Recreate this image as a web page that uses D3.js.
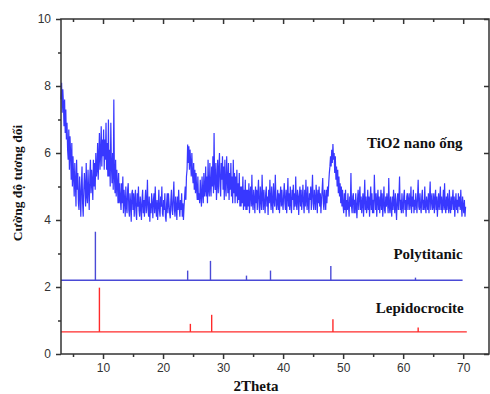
<!DOCTYPE html>
<html>
<head>
<meta charset="utf-8">
<script src="https://cdn.jsdelivr.net/npm/d3@7"></script>
<style>
  html, body { margin: 0; padding: 0; background: #fff; }
  svg { display: block; }
</style>
</head>
<body>
<svg id="chart" width="490" height="394"></svg>
<script>
// XRD pattern of TiO2 nanotubes, sampled every 0.1 degree from 2θ = 3.0
const thetaStart = 3.0;
const thetaStep = 0.1;
const tio2 = [
  7.6, 8.1, 7.2, 7.9, 7.5, 6.8, 7.6, 6.6, 7.3, 6.4,
  6.9, 6.1, 5.8, 6.7, 5.5, 6.5, 6.0, 5.2, 6.3, 5.0,
  5.9, 5.3, 4.7, 5.7, 5.1, 4.4, 5.8, 4.9, 5.4, 4.5,
  4.3, 5.3, 4.8, 4.1, 5.0, 5.6, 4.5, 4.1, 4.9, 5.4,
  5.0, 4.4, 5.7, 4.7, 4.5, 5.5, 4.9, 4.3, 5.3, 5.8,
  4.8, 5.5, 5.1, 4.6, 5.8, 5.0, 5.7, 4.9, 6.0, 5.3,
  5.5, 6.3, 5.2, 5.9, 6.6, 5.5, 6.0, 6.8, 5.6, 6.4,
  5.9, 6.7, 5.5, 6.4, 5.8, 6.9, 5.5, 6.3, 5.3, 7.0,
  5.3, 6.1, 5.0, 6.9, 5.6, 5.1, 6.0, 4.9, 7.6, 5.3,
  4.8, 5.8, 4.7, 5.5, 5.1, 4.5, 5.4, 4.5, 5.1, 4.6,
  4.3, 5.1, 4.5, 5.3, 4.2, 4.9, 4.6, 4.1, 5.0, 4.4,
  4.2, 4.9, 5.1, 4.3, 4.1, 4.8, 4.5, 3.95, 4.8, 4.9,
  4.3, 4.8, 4.1, 4.6, 4.9, 4.2, 4.0, 4.8, 4.4, 5.0,
  4.3, 4.1, 4.7, 4.4, 4.0, 4.6, 4.9, 4.2, 4.6, 4.1,
  4.6, 4.9, 4.2, 4.5, 5.2, 4.3, 4.1, 4.7, 3.95, 4.5,
  4.2, 4.8, 4.5, 4.05, 4.6, 4.8, 4.2, 5.0, 4.4, 4.1,
  4.6, 4.0, 4.4, 4.9, 4.3, 4.1, 4.7, 4.4, 5.0, 4.2,
  4.1, 4.6, 4.3, 4.8, 4.1, 3.95, 4.5, 4.8, 4.2, 4.8,
  4.5, 4.2, 4.05, 4.6, 4.9, 4.3, 4.15, 4.7, 5.15, 4.3,
  4.1, 4.7, 4.4, 4.0, 4.7, 4.3, 4.9, 4.4, 4.1, 4.6,
  4.3, 4.8, 4.1, 4.5, 4.0, 4.4, 4.7, 5.0, 4.6, 5.3,
  5.5, 6.25, 5.7, 6.2, 5.5, 6.1, 5.7, 5.3, 6.0, 5.4,
  5.1, 5.7, 4.9, 5.5, 4.8, 5.4, 4.9, 4.6, 5.3, 4.6,
  4.8, 4.5, 5.2, 4.7, 4.4, 5.3, 4.8, 4.5, 5.4, 4.7,
  4.9, 5.6, 4.7, 5.3, 4.5, 5.8, 4.9, 4.7, 5.7, 5.0,
  4.7, 5.6, 5.0, 5.9, 4.8, 6.6, 5.1, 4.9, 5.7, 4.6,
  5.1, 5.8, 4.8, 5.5, 6.0, 5.0, 4.7, 5.7, 5.2, 5.9,
  4.9, 5.6, 4.6, 5.8, 5.0, 4.7, 5.9, 5.2, 4.8, 5.7,
  4.6, 5.4, 4.9, 5.7, 4.7, 5.3, 4.5, 5.8, 4.8, 5.4,
  4.5, 5.3, 4.7, 5.5, 4.5, 5.1, 4.6, 5.4, 4.4, 5.0,
  4.4, 5.0, 4.5, 5.3, 4.3, 4.9, 4.4, 5.2, 4.3, 4.9,
  4.3, 4.9, 4.4, 5.1, 4.2, 4.8, 5.0, 4.4, 5.35, 4.5,
  4.3, 4.9, 4.6, 4.2, 5.0, 4.5, 4.9, 4.3, 4.8, 5.2,
  4.4, 4.2, 5.0, 4.6, 4.3, 5.35, 4.7, 4.3, 4.9, 4.5,
  4.2, 4.8, 5.0, 4.4, 4.7, 4.15, 4.9, 4.5, 5.2, 4.6,
  4.3, 5.0, 4.5, 4.2, 5.1, 4.6, 4.4, 5.35, 4.7, 4.3,
  4.5, 4.9, 4.3, 4.8, 4.2, 4.7, 5.0, 4.4, 4.9, 4.5,
  4.3, 4.8, 5.1, 4.5, 4.3, 4.9, 4.2, 4.7, 5.25, 4.4,
  4.8, 4.3, 5.0, 4.5, 4.2, 4.9, 4.6, 5.05, 4.3, 4.8,
  4.4, 5.3, 4.5, 4.3, 4.9, 4.7, 4.15, 4.7, 5.0, 4.4,
  4.9, 4.3, 4.6, 5.05, 4.5, 4.2, 4.9, 4.4, 5.2, 4.6,
  4.3, 5.0, 4.5, 4.2, 4.8, 4.6, 5.0, 4.3, 4.8, 5.35,
  4.5, 4.3, 4.9, 4.6, 4.3, 5.05, 4.7, 4.2, 4.9, 4.5,
  5.0, 4.4, 4.8, 4.2, 4.6, 4.9, 5.25, 4.5, 4.3, 4.9,
  4.6, 4.3, 4.9, 4.5, 5.0, 4.7, 5.1, 5.4, 5.6, 5.9,
  5.6, 6.1, 5.7, 6.27, 5.8, 6.0, 5.4, 5.9, 5.2, 5.6,
  5.0, 5.5, 4.8, 5.3, 4.7, 5.1, 4.5, 5.0, 4.4, 4.9,
  4.4, 4.2, 4.8, 4.3, 4.9, 4.1, 4.6, 4.3, 4.8, 4.4,
  4.1, 4.7, 4.4, 5.4, 4.4, 4.2, 4.7, 4.8, 4.2, 4.6,
  4.2, 4.8, 4.4, 4.05, 4.6, 4.9, 4.3, 4.7, 5.0, 4.3,
  4.7, 4.2, 4.5, 4.8, 4.1, 4.6, 5.2, 4.3, 4.7, 4.2,
  4.4, 4.9, 4.3, 4.7, 4.1, 4.6, 5.0, 4.3, 4.8, 4.2,
  4.6, 4.2, 5.35, 4.7, 4.3, 4.8, 4.1, 4.6, 4.9, 4.3,
  4.7, 4.2, 4.5, 4.9, 4.3, 4.8, 4.1, 4.5, 5.0, 4.3,
  4.2, 4.7, 4.4, 4.8, 4.5, 4.2, 5.25, 4.4, 4.2, 4.7,
  4.4, 4.1, 4.7, 4.3, 4.9, 4.5, 4.2, 4.8, 4.4, 4.0,
  4.6, 4.8, 4.3, 4.7, 5.3, 4.3, 4.6, 4.2, 4.8, 4.4,
  4.2, 4.7, 4.9, 4.3, 4.6, 4.1, 4.7, 4.8, 4.3, 4.6,
  4.8, 4.3, 4.5, 5.0, 4.2, 4.7, 4.4, 4.9, 4.2, 4.6,
  4.3, 4.8, 4.5, 4.2, 4.7, 5.2, 4.4, 4.3, 4.8, 4.4,
  4.2, 4.7, 4.9, 4.3, 4.6, 4.3, 5.0, 4.4, 4.2, 4.7,
  4.5, 4.3, 4.8, 4.2, 4.7, 5.15, 4.3, 4.6, 4.8, 4.3,
  4.4, 4.8, 4.2, 4.6, 4.9, 4.3, 4.7, 4.1, 4.5, 4.8,
  4.3, 4.6, 5.0, 4.3, 4.7, 4.2, 4.5, 4.9, 4.3, 5.1,
  4.4, 4.2, 4.7, 4.3, 4.8, 4.5, 4.2, 4.9, 4.4, 4.2,
  4.7, 4.3, 4.6, 4.9, 4.3, 4.7, 4.1, 4.5, 4.8, 4.3,
  4.6, 4.2, 4.8, 4.4, 4.7, 4.3, 4.9, 4.4, 4.1, 4.7,
  4.4, 4.2, 4.6, 4.1, 4.4
];

// Reference stick patterns (2θ position, intensity) drawn on offset baselines
const polyTheta = [8.73, 24.1, 27.9, 33.9, 37.9, 47.95, 62.05];
const polyPeak  = [3.65, 2.49, 2.78, 2.34, 2.49, 2.63, 2.28];
const polyBase  = 2.2;
const polyRange = [3, 69.9];

const lepiTheta = [9.4, 24.55, 28.1, 48.3, 62.5];
const lepiPeak  = [1.98, 0.9, 1.17, 1.04, 0.79];
const lepiBase  = 0.66;
const lepiRange = [3, 70.6];

// Axis ticks
const xMajor = [10, 20, 30, 40, 50, 60, 70];
const xMinor = [5, 15, 25, 35, 45, 55, 65];
const yMajor = [0, 2, 4, 6, 8, 10];
const yMinor = [1, 3, 5, 7, 9];

// Curve labels
const labels = [
  { text: "TiO2 nano ống", theta: 69.9, y: 6.14 },
  { text: "Polytitanic",   theta: 69.9, y: 2.85 },
  { text: "Lepidocrocite", theta: 70.1, y: 1.23 }
];

const svg = d3.select("#chart");
const plotL = 61, plotR = 489, plotT = 19, plotB = 354;

const x = d3.scaleLinear().domain([3, 74.3]).range([plotL, plotR]);
const y = d3.scaleLinear().domain([0, 10]).range([plotB, plotT]);

const axisColor = "#333";
const tickFont = "Arial, 'Liberation Sans', sans-serif";
const serif = "'Times New Roman', 'Liberation Serif', serif";

// TiO2 pattern
const pts = tio2.map((v, i) => [thetaStart + i * thetaStep, v]);
svg.append("path")
  .datum(pts)
  .attr("fill", "none")
  .attr("stroke", "#0000ff")
  .attr("stroke-opacity", 0.78)
  .attr("stroke-width", 1.2)
  .attr("d", d3.line().x(d => x(d[0])).y(d => y(d[1])));

// Stick patterns
function sticks(theta, peak, base, range, color) {
  const g = svg.append("g").attr("stroke", color).attr("stroke-width", 1.4);
  g.append("line")
    .attr("x1", x(range[0])).attr("x2", x(range[1]))
    .attr("y1", y(base)).attr("y2", y(base));
  g.selectAll("line.stick")
    .data(theta.map((t, i) => [t, peak[i]]))
    .join("line")
    .attr("class", "stick")
    .attr("x1", d => x(d[0])).attr("x2", d => x(d[0]))
    .attr("y1", y(base)).attr("y2", d => y(d[1]));
}
sticks(polyTheta, polyPeak, polyBase, polyRange, "#4a4ad6");
sticks(lepiTheta, lepiPeak, lepiBase, lepiRange, "#ff2a2a");

// Frame
svg.append("rect")
  .attr("x", plotL).attr("y", plotT)
  .attr("width", plotR - plotL).attr("height", plotB - plotT)
  .attr("fill", "none").attr("stroke", axisColor).attr("stroke-width", 1.5);

function styleTicks(g) {
  g.select(".domain").remove();
  g.selectAll("line").attr("stroke", axisColor).attr("stroke-width", 1.5);
}

// Bottom axis
const gx = svg.append("g").attr("transform", `translate(0,${plotB})`)
  .call(d3.axisBottom(x).tickValues(xMajor).tickSize(5).tickPadding(4).tickFormat(d3.format("d")))
  .call(styleTicks);
gx.selectAll("text").attr("font-family", tickFont).attr("font-size", 12).attr("fill", "#333");
svg.append("g").attr("transform", `translate(0,${plotB})`)
  .call(d3.axisBottom(x).tickValues(xMinor).tickSize(3).tickFormat(""))
  .call(styleTicks);

// Top axis (ticks pointing into the plot)
svg.append("g").attr("transform", `translate(0,${plotT})`)
  .call(d3.axisBottom(x).tickValues(xMajor).tickSize(5).tickFormat(""))
  .call(styleTicks);
svg.append("g").attr("transform", `translate(0,${plotT})`)
  .call(d3.axisBottom(x).tickValues(xMinor).tickSize(3).tickFormat(""))
  .call(styleTicks);

// Left axis
const gy = svg.append("g").attr("transform", `translate(${plotL},0)`)
  .call(d3.axisLeft(y).tickValues(yMajor).tickSize(5).tickPadding(5).tickFormat(d3.format("d")))
  .call(styleTicks);
gy.selectAll("text").attr("font-family", tickFont).attr("font-size", 12).attr("fill", "#333");
svg.append("g").attr("transform", `translate(${plotL},0)`)
  .call(d3.axisLeft(y).tickValues(yMinor).tickSize(3).tickFormat(""))
  .call(styleTicks);

// Right axis (ticks pointing into the plot)
svg.append("g").attr("transform", `translate(${plotR},0)`)
  .call(d3.axisLeft(y).tickValues(yMajor).tickSize(5).tickFormat(""))
  .call(styleTicks);

// Axis titles
svg.append("text")
  .attr("x", 256).attr("y", 391)
  .attr("text-anchor", "middle")
  .attr("font-family", serif).attr("font-weight", "bold").attr("font-size", 15)
  .attr("fill", "#111")
  .text("2Theta");

svg.append("text")
  .attr("transform", "translate(22,183) rotate(-90)")
  .attr("text-anchor", "middle")
  .attr("font-family", serif).attr("font-weight", "bold").attr("font-size", 13.5)
  .attr("fill", "#111")
  .text("Cường độ tương đối");

// Curve labels
svg.selectAll("text.curve")
  .data(labels)
  .join("text")
  .attr("class", "curve")
  .attr("x", d => x(d.theta)).attr("y", d => y(d.y))
  .attr("text-anchor", "end")
  .attr("font-family", serif).attr("font-weight", "bold").attr("font-size", 15)
  .attr("fill", "#111")
  .text(d => d.text);
</script>
</body>
</html>
